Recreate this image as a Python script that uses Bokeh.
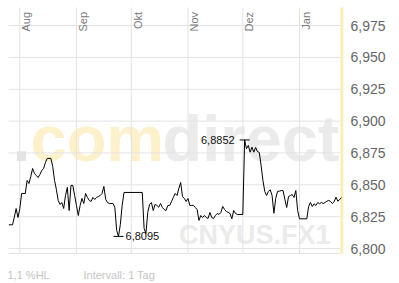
import datetime
import math
from bokeh.plotting import figure
from bokeh.models import FixedTicker, CustomJSTickFormatter, BoxAnnotation, Range1d
from bokeh.core.properties import value
from bokeh.embed import file_html
from bokeh.resources import INLINE

# ---------------- data ----------------
base_date = "2008-08-01"
day_offsets = [-6, -4, -3, -2, -1, 0, 1, 3, 4, 5, 6, 7, 8, 9, 10, 11, 12, 13, 14, 15,
               17, 18, 19, 20, 21, 22, 23, 24, 25, 26, 27, 28, 29, 30, 31, 32, 33, 34, 35,
               36, 37, 38, 39, 40, 41, 42, 43, 44, 45, 46, 47, 48, 49, 51, 52, 53, 54, 55,
               56, 57, 67, 68, 69, 70, 71, 72, 73, 74, 75, 76, 77, 78, 79, 80, 81, 82, 83,
               84, 85, 86, 87, 88, 89, 90, 91, 92, 93, 94, 95, 96, 97, 98, 99, 100, 101,
               102, 103, 104, 105, 106, 107, 108, 109, 110, 111, 112, 113, 114, 115, 116,
               117, 118, 119, 121, 122, 123, 124, 125, 126, 127, 128, 129, 130, 131, 132,
               133, 134, 135, 136, 137, 138, 139, 140, 141, 142, 143, 144, 145, 146, 147,
               148, 149, 150, 151, 152, 153, 157, 158, 159, 160, 161, 162, 163, 164, 165,
               166, 167, 168, 169, 170, 171, 172, 173, 174, 175, 176]
rates = [6.8186, 6.8186, 6.8246, 6.8314, 6.8243, 6.8314, 6.8432, 6.8432, 6.8534, 6.8510,
         6.8565, 6.8628, 6.8589, 6.8573, 6.8557, 6.8581, 6.8612, 6.8628, 6.8675, 6.8707,
         6.8707, 6.8644, 6.8534, 6.8464, 6.8377, 6.8346, 6.8361, 6.8314, 6.8416, 6.8479,
         6.8298, 6.8495, 6.8495, 6.8416, 6.8338, 6.8259, 6.8338, 6.8393, 6.8353, 6.8432,
         6.8401, 6.8377, 6.8369, 6.8401, 6.8385, 6.8401, 6.8408, 6.8416, 6.8432, 6.8487,
         6.8385, 6.8361, 6.8353, 6.8353, 6.8322, 6.8141, 6.8095, 6.8188, 6.8338, 6.8440,
         6.8440, 6.8157, 6.8118, 6.8283, 6.8346, 6.8361, 6.8298, 6.8346, 6.8338, 6.8324,
         6.8353, 6.8322, 6.8306, 6.8298, 6.8338, 6.8338, 6.8369, 6.8401, 6.8432, 6.8416,
         6.8471, 6.8518, 6.8408, 6.8393, 6.8369, 6.8393, 6.8338, 6.8338, 6.8338, 6.8322,
         6.8306, 6.8220, 6.8259, 6.8243, 6.8259, 6.8243, 6.8236, 6.8283, 6.8243, 6.8236,
         6.8259, 6.8275, 6.8267, 6.8283, 6.8330, 6.8306, 6.8291, 6.8283, 6.8275, 6.8233,
         6.8298, 6.8275, 6.8267, 6.8267, 6.8267, 6.8852, 6.8783, 6.8809, 6.8756, 6.8795,
         6.8756, 6.8793, 6.8761, 6.8754, 6.8652, 6.8534, 6.8448, 6.8416, 6.8448, 6.8461,
         6.8416, 6.8277, 6.8393, 6.8448, 6.8450, 6.8455, 6.8455, 6.8385, 6.8322, 6.8408,
         6.8416, 6.8424, 6.8401, 6.8455, 6.8298, 6.8233, 6.8233, 6.8330, 6.8361, 6.8330,
         6.8351, 6.8338, 6.8361, 6.8351, 6.8361, 6.8353, 6.8361, 6.8371, 6.8377, 6.8369,
         6.8353, 6.8369, 6.8403, 6.8371, 6.8385, 6.8398]

month_starts = ["2008-08-01", "2008-09-01", "2008-10-01", "2008-11-01", "2008-12-01", "2009-01-01"]
month_labels = ["Aug", "Sep", "Okt", "Nov", "Dez", "Jan"]
y_ticks = [6.800, 6.825, 6.850, 6.875, 6.900, 6.925, 6.950, 6.975]
footer_left = "1,1 %HL"
footer_right = "Intervall: 1 Tag"
symbol = "CNYUS.FX1"

# ---------------- helpers ----------------
DAY = 86400000.0
EPOCH = datetime.datetime(1970, 1, 1)


def to_ms(s):
    d = datetime.datetime.strptime(s, "%Y-%m-%d")
    return (d - EPOCH).total_seconds() * 1000.0


base_ms = to_ms(base_date)
xs = [base_ms + d * DAY for d in day_offsets]
month_ms = [to_ms(m) for m in month_starts]

# layout geometry (pixels)
W, H = 399, 283
FR = 343                 # right edge of the frame (incl. yellow bar)
PL, PRG, PT, PB = 8, 340, 7, 253   # plot-area box inside the frame
PX_PER_DAY = 1.828
X0_PX = 19.3             # pixel of base date
Y_REF_PX, Y_REF = 248.0, 6.800
PX_PER_UNIT = 1274.0


def px_x(px):
    return base_ms + (px - X0_PX) / PX_PER_DAY * DAY


def px_y(py):
    return Y_REF + (Y_REF_PX - py) / PX_PER_UNIT


FONT = "Liberation Sans"
GRID = "#e3e3e3"

p = figure(width=W, height=H, x_axis_type="datetime", y_axis_location="right",
           output_backend="svg", toolbar_location=None,
           x_range=Range1d(px_x(0), px_x(FR)), y_range=Range1d(px_y(H), px_y(0)),
           min_border_left=0, min_border_right=W - FR, min_border_top=0,
           min_border_bottom=0)
p.outline_line_color = None
p.background_fill_color = "white"
p.border_fill_color = "white"
p.xaxis.visible = False
p.xgrid.visible = False
p.ygrid.visible = False

# y axis right
p.yaxis.ticker = FixedTicker(ticks=y_ticks)
p.yaxis.axis_line_color = None
p.yaxis.major_tick_line_color = None
p.yaxis.minor_tick_line_color = None
p.yaxis.major_tick_out = 0
p.yaxis.major_label_standoff = 7
p.yaxis.major_label_text_font = FONT
p.yaxis.major_label_text_font_size = "14px"
p.yaxis.major_label_text_color = "#666666"
p.yaxis.formatter = CustomJSTickFormatter(code="return tick.toFixed(3).replace('.', ',');")

# watermark (drawn first, under the grid)
wm_y = px_y(138)
for txt, xpx, col in [(".", 12, "#e4e4e4"), ("com", 30, "#fdf1cc"), ("direct", 162, "#ebebeb")]:
    p.text(x=[px_x(xpx)], y=[wm_y], text=[txt], text_font=value(FONT),
           text_font_style=value("bold"), text_font_size="65px", text_color=col,
           text_align="left", text_baseline="middle")
p.text(x=[px_x(330)], y=[px_y(234)], text=[symbol], text_font=value(FONT),
       text_font_style=value("bold"), text_font_size="27px", text_color="#ebebeb",
       text_align="right", text_baseline="middle")

# grid lines
p.segment(x0=[px_x(PL)] * len(y_ticks), x1=[px_x(PRG)] * len(y_ticks),
          y0=y_ticks, y1=y_ticks, line_color=GRID, line_width=1)
p.segment(x0=month_ms, x1=month_ms, y0=[px_y(PB)] * len(month_ms),
          y1=[px_y(PT)] * len(month_ms), line_color=GRID, line_width=1)
p.segment(x0=[px_x(PL)], x1=[px_x(PRG)], y0=[px_y(PB)], y1=[px_y(PB)],
          line_color=GRID, line_width=1)

# yellow bar at right edge
p.add_layout(BoxAnnotation(left=px_x(340), right=px_x(FR), bottom=px_y(PB), top=px_y(PT),
                           fill_color="#fcedb0", fill_alpha=1.0, line_color=None,
                           level="underlay"))

# month labels
p.text(x=month_ms, y=[px_y(11.5)] * len(month_ms), text=month_labels, angle=math.pi / 2,
       text_align="right", text_baseline="top", x_offset=0.5,
       text_font=value(FONT), text_font_size="11px", text_color="#777777")

# the line
p.line(xs, rates, line_color="black", line_width=1)

# min / max markers
imax = max(range(len(rates)), key=lambda i: rates[i])
imin = min(range(len(rates)), key=lambda i: rates[i])
half = 5 / PX_PER_DAY * DAY
for i, off, align in [(imax, -10, "right"), (imin, 7, "left")]:
    p.segment(x0=[xs[i] - half], x1=[xs[i] + half], y0=[rates[i]], y1=[rates[i]],
              line_color="black", line_width=1)
    p.text(x=[xs[i]], y=[rates[i]], text=[("%.4f" % rates[i]).replace(".", ",")],
           x_offset=off, text_align=align, text_baseline="middle",
           text_font=value(FONT), text_font_size="11px", text_color="#111111")

# footer
p.text(x=[px_x(7), px_x(83)], y=[px_y(274.5)] * 2, text=[footer_left, footer_right],
       text_font=value(FONT), text_font_size="11px", text_color="#c4c4c4",
       text_align="left", text_baseline="middle")

open("out.html", "w").write(file_html(p, INLINE))
